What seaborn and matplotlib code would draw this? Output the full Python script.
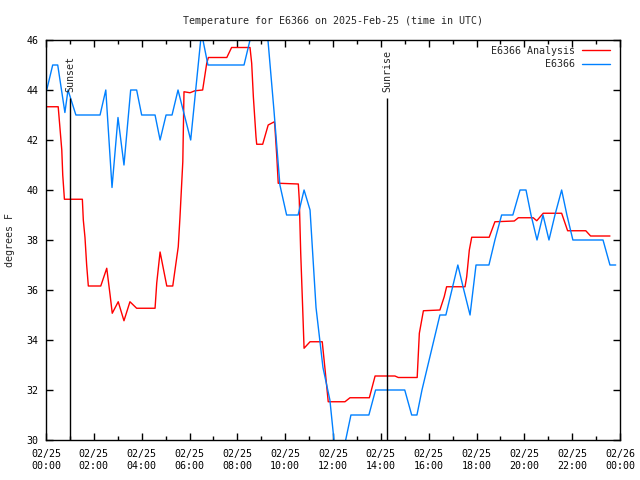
import pandas as pd
import matplotlib
matplotlib.use("Agg")
import matplotlib.pyplot as plt
import matplotlib.dates as mdates
import seaborn as sns

# hours after 2025-02-25 00:00 UTC
obs_hours = [0.03, 0.28, 0.49, 0.79, 0.92, 1.25, 2.26, 2.50, 2.76, 3.01, 3.26, 3.54,
             3.79, 4.00, 4.56, 4.77, 5.02, 5.27, 5.52, 6.05, 6.50, 6.77, 8.28, 8.53,
             8.78, 9.03, 9.28, 9.53, 9.78, 10.06, 10.54, 10.79, 11.04, 11.29, 11.58,
             11.87, 12.04, 12.29, 12.53, 12.75, 13.50, 13.78, 15.00, 15.29, 15.51,
             15.72, 15.97, 16.22, 16.47, 16.72, 16.97, 17.22, 17.47, 17.73, 17.98,
             18.52, 18.77, 19.05, 19.52, 19.82, 20.07, 20.28, 20.53, 20.78, 21.03,
             21.28, 21.56, 21.78, 22.03, 23.29, 23.58, 23.82]
obs_temp = [44.0, 45.0, 45.0, 43.1, 44.0, 43.0, 43.0, 44.0, 40.1, 42.9, 41.0, 44.0,
            44.0, 43.0, 43.0, 42.0, 43.0, 43.0, 44.0, 42.0, 46.3, 45.0, 45.0, 46.0,
            47.0, 47.0, 46.0, 43.2, 40.2, 39.0, 39.0, 40.0, 39.2, 35.3, 32.9,
            31.6, 30.0, 29.3, 30.0, 31.0, 31.0, 32.0, 32.0, 31.0, 31.0,
            32.0, 33.0, 34.0, 35.0, 35.0, 36.0, 37.0, 36.0, 35.0, 37.0,
            37.0, 38.0, 39.0, 39.0, 40.0, 40.0, 39.0, 38.0, 39.0, 38.0,
            39.0, 40.0, 39.0, 38.0, 38.0, 37.0, 37.0]

ana_hours = [0.03, 0.51, 0.66, 0.70, 0.77, 1.52, 1.56, 1.63, 1.70, 1.77, 2.29, 2.54,
             2.68, 2.77, 3.02, 3.26, 3.51, 3.79, 4.56, 4.63, 4.77, 5.05, 5.30, 5.53,
             5.60, 5.72, 5.77, 6.02, 6.23, 6.55, 6.72, 6.79, 7.56, 7.76, 8.53, 8.60,
             8.67, 8.78, 8.81, 9.06, 9.29, 9.55, 9.57, 9.65, 9.71, 10.55, 10.59,
             10.65, 10.73, 10.79, 11.04, 11.55, 11.67, 11.80, 12.50, 12.71, 13.52,
             13.76, 14.59, 14.73, 15.52, 15.61, 15.78, 16.47, 16.65, 16.75, 17.52,
             17.59, 17.70, 17.80, 18.53, 18.77, 19.58, 19.75, 20.37, 20.52, 20.79,
             21.56, 21.81, 22.57, 22.77, 23.58]
ana_temp = [43.33, 43.33, 41.6, 40.6, 39.63, 39.63, 38.8, 38.1, 37.0, 36.16, 36.16, 36.87,
            35.8, 35.07, 35.53, 34.77, 35.53, 35.27, 35.27, 36.28, 37.52, 36.16, 36.16, 37.73,
            38.88, 41.13, 43.93, 43.89, 43.97, 44.0, 45.07, 45.3, 45.3, 45.7, 45.7, 45.07,
            43.73, 42.13, 41.83, 41.83, 42.6, 42.73, 42.53, 41.33, 40.27, 40.24, 39.6,
            37.48, 35.33, 33.67, 33.93, 33.93, 32.8, 31.53, 31.53, 31.69, 31.69,
            32.56, 32.56, 32.5, 32.5, 34.27, 35.17, 35.2, 35.73, 36.13, 36.13,
            36.53, 37.6, 38.11, 38.11, 38.73, 38.76, 38.89, 38.89, 38.77, 39.07,
            39.07, 38.37, 38.37, 38.16, 38.16]

sun_events = ["Sunset", "Sunrise"]
sun_hours = [1.02, 14.26]

base = pd.Timestamp("2025-02-25 00:00")
obs = pd.DataFrame({"time": base + pd.to_timedelta(obs_hours, unit="h"), "temp": obs_temp})
ana = pd.DataFrame({"time": base + pd.to_timedelta(ana_hours, unit="h"), "temp": ana_temp})
sun_times = base + pd.to_timedelta(sun_hours, unit="h")

sns.set_style("ticks")
plt.rcParams["font.family"] = ["DejaVu Sans Mono"]
fs = 7.2

fig = plt.figure(figsize=(6.4, 4.8), dpi=100)
ax = fig.add_axes([46 / 640, 40 / 480, 574 / 640, 400 / 480])

sns.lineplot(data=ana, x="time", y="temp", color="#ff0000", lw=1.0, ax=ax,
             label="E6366 Analysis", sort=False, estimator=None)
sns.lineplot(data=obs, x="time", y="temp", color="#0080ff", lw=1.0, ax=ax,
             label="E6366", sort=False, estimator=None)

ax.vlines(sun_times, 30, 43.68, color="black", lw=1.0)
for name, t in zip(sun_events, sun_times):
    ax.text(t, 43.92, name, rotation=90, ha="center", va="bottom", fontsize=fs)

ax.set_xlim(base, base + pd.Timedelta(days=1))
ax.set_ylim(30, 46)
ax.set_yticks(range(30, 47, 2))
ax.xaxis.set_major_locator(mdates.HourLocator(interval=2))
ax.xaxis.set_minor_locator(mdates.HourLocator())
ax.xaxis.set_major_formatter(mdates.DateFormatter("%m/%d\n%H:%M"))

ax.tick_params(which="both", direction="in", top=True, right=True, width=1,
               colors="black", labelsize=fs)
ax.tick_params(which="major", length=5)
ax.tick_params(which="minor", length=3)
ax.tick_params(axis="x", pad=6.5)
ax.tick_params(axis="y", pad=5.5)
for s in ax.spines.values():
    s.set_linewidth(1)
    s.set_color("black")

ax.set_xlabel("")
ax.set_ylabel("degrees F", fontsize=fs, labelpad=8)
ax.set_title("Temperature for E6366 on 2025-Feb-25 (time in UTC)", fontsize=fs, pad=11.5)

ax.legend(loc="upper right", bbox_to_anchor=(1 - 10 / 574, 1 - 6 / 400), frameon=False,
          markerfirst=False, handlelength=2.8, handletextpad=0.7, borderpad=0,
          borderaxespad=0, labelspacing=0.35, fontsize=fs)

fig.savefig("out.png", dpi=100)
